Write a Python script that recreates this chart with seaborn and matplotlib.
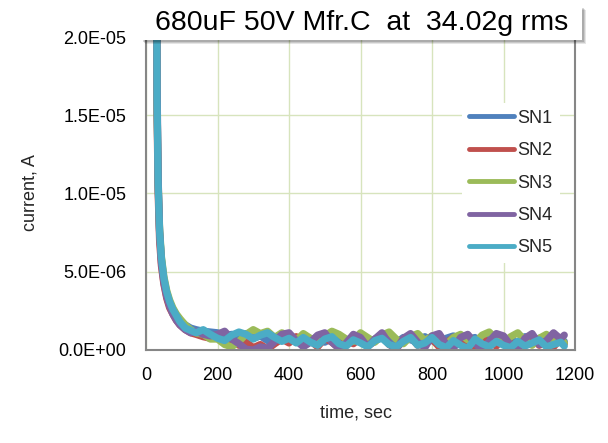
import numpy as np
import pandas as pd
import matplotlib
matplotlib.use("Agg")
import matplotlib.pyplot as plt
import seaborn as sns
from matplotlib.ticker import MultipleLocator, FuncFormatter
from matplotlib.patches import Rectangle

# ---------------- data (current in microamps) ----------------
time_s = [28, 31, 34, 38, 43, 50, 58, 66, 75, 85, 95, 110, 125, 140, 160, 180,
          200, 220, 240, 260, 280, 300, 320, 340, 360, 380,
          400, 420, 440, 460, 480, 500, 520, 540, 560, 580,
          600, 620, 640, 660, 680, 700, 720, 740, 760, 780,
          800, 820, 840, 860, 880, 900, 920, 940, 960, 980,
          1000, 1020, 1040, 1060, 1080, 1100, 1120, 1140, 1160, 1170]

sn1_uA = [45, 16, 10.5, 7.5, 5.8, 4.5, 3.6, 3.0, 2.6, 2.2, 1.9, 1.6, 1.4, 1.3, 1.2, 1.15,
          1.1, 0.9, 1.0, 0.8, 1.05, 0.75, 0.9, 0.6, 0.85, 0.7,
          0.9, 0.55, 0.8, 0.6, 0.85, 0.5, 0.75, 0.9, 0.55, 0.7,
          0.85, 0.5, 0.7, 0.9, 0.6, 0.45, 0.8, 0.65, 0.5, 0.85,
          0.6, 0.4, 0.75, 0.9, 0.5, 0.65, 0.8, 0.45, 0.7, 0.85,
          0.5, 0.7, 0.4, 0.85, 0.6, 0.75, 0.45, 0.8, 0.6, 0.55]
sn2_uA = [44, 15, 10, 7.0, 5.4, 4.2, 3.3, 2.7, 2.3, 1.9, 1.6, 1.3, 1.1, 1.0, 0.85, 0.75,
          0.8, 0.5, 0.6, 0.3, 0.5, 0.15, 0.35, 0.05, 0.4, 0.7,
          0.45, 0.85, 0.3, 0.6, 0.2, 0.75, 0.5, 0.1, 0.65, 0.4,
          0.8, 0.25, 0.55, 0.9, 0.35, 0.1, 0.6, 0.85, 0.3, 0.5,
          0.7, 0.2, 0.45, 0.8, 0.35, 0.6, 0.15, 0.7, 0.5, 0.25,
          0.85, 0.4, 0.1, 0.6, 0.8, 0.3, 0.55, 0.2, 0.75, 0.4]
sn3_uA = [45, 16, 10.8, 7.8, 6.0, 4.7, 3.8, 3.2, 2.7, 2.3, 2.0, 1.6, 1.3, 1.1, 1.0, 0.7,
          0.7, 0.35, 0.2, 0.55, 1.0, 1.3, 1.05, 1.2, 0.8, 1.1,
          0.9, 0.6, 1.05, 0.75, 0.4, 0.9, 1.2, 1.0, 0.7, 0.55,
          1.1, 0.8, 0.5, 0.95, 1.15, 0.7, 0.4, 0.85, 1.05, 0.6,
          0.9, 0.5, 0.35, 0.8, 1.0, 0.65, 0.45, 0.95, 1.15, 0.7,
          0.5, 0.85, 1.1, 0.6, 0.3, 0.75, 1.0, 0.55, 0.8, 0.45]
sn4_uA = [46, 17, 11, 7.6, 5.6, 4.3, 3.4, 2.8, 2.3, 1.9, 1.6, 1.3, 1.1, 1.2, 1.0, 0.9,
          1.0, 1.2, 0.7, 0.4, 0.05, 0.0, 0.2, 0.1, 0.55, 1.0,
          1.1, 0.6, 0.2, 0.5, 0.95, 1.1, 0.5, 0.1, 0.45, 1.0,
          0.8, 0.2, 0.7, 1.1, 0.4, 0.05, 0.75, 1.05, 0.5, 0.15,
          0.9, 1.05, 0.35, 0.1, 0.8, 1.0, 0.45, 0.0, 0.55, 1.05,
          0.9, 0.3, 0.05, 0.75, 1.05, 0.35, 0.6, 1.1, 0.7, 0.95]
sn5_uA = [45, 16, 10.6, 7.6, 5.9, 4.6, 3.7, 3.1, 2.6, 2.2, 1.8, 1.4, 1.25, 1.1, 1.3, 1.0,
          0.75, 0.6, 0.95, 1.15, 1.0, 0.7, 0.95, 1.1, 0.8, 0.55,
          0.75, 0.45, 0.8, 0.5, 0.3, 0.7, 0.85, 0.4, 0.25, 0.65,
          0.45, 0.2, 0.6, 0.75, 0.35, 0.2, 0.55, 0.8, 0.3, 0.45,
          0.8, 0.35, 0.15, 0.6, 0.3, 0.1, 0.7, 0.4, 0.2, 0.55,
          0.3, 0.15, 0.55, 0.25, 0.45, 0.65, 0.2, 0.35, 0.5, 0.25]

series_names = ["SN1", "SN2", "SN3", "SN4", "SN5"]
series_colors = ["#4f81bd", "#c0504d", "#9bbb59", "#8064a2", "#4bacc6"]
title_text = "680uF 50V Mfr.C  at  34.02g rms"

# ---------------- build long table ----------------
frames = []
for name, vals in zip(series_names, [sn1_uA, sn2_uA, sn3_uA, sn4_uA, sn5_uA]):
    frames.append(pd.DataFrame({"time": time_s,
                                "current": np.array(vals) * 1e-6,
                                "series": name}))
df = pd.concat(frames, ignore_index=True)

sns.set_theme(style="white")
plt.rcParams["font.family"] = ["Liberation Sans", "DejaVu Sans"]

FS = 13
fig = plt.figure(figsize=(6.08, 4.43), dpi=100)
ax = fig.add_axes([146 / 608, 1 - 350 / 443, (575 - 146) / 608, (350 - 37) / 443])

sns.lineplot(data=df, x="time", y="current", hue="series", hue_order=series_names,
             palette=series_colors, linewidth=5.2, ax=ax, sort=False,
             estimator=None, solid_capstyle="round", solid_joinstyle="round")

ax.set_xlim(0, 1200)
ax.set_ylim(0, 2.0e-5)
ax.xaxis.set_major_locator(MultipleLocator(200))
ax.xaxis.set_minor_locator(MultipleLocator(40))
ax.yaxis.set_major_locator(MultipleLocator(5e-6))
ax.yaxis.set_minor_locator(MultipleLocator(1e-6))
ax.yaxis.set_major_formatter(FuncFormatter(lambda v, p: f"{v:.1E}"))

grid_c = "#d7e4bd"
ax.grid(True, which="major", color=grid_c, linewidth=1.0)
ax.set_axisbelow(True)

spine_c = "#868686"
for s in ["left", "bottom", "right"]:
    ax.spines[s].set_color(spine_c)
    ax.spines[s].set_linewidth(1.5)
ax.spines["top"].set_visible(False)
ax.tick_params(axis="both", which="both", direction="in", color=spine_c,
               labelsize=FS, labelcolor="black")
ax.tick_params(axis="x", pad=12)
ax.tick_params(axis="y", pad=14)
ax.tick_params(which="major", length=5, width=1)
ax.tick_params(which="minor", length=4, width=1)
ax.tick_params(axis="y", which="both", right=False)

ax.set_xlabel("time, sec", fontsize=FS)
ax.set_ylabel("current, A", fontsize=FS)
ax.xaxis.set_label_coords((356 - 146) / 429, -(413 - 350) / 313)
ax.yaxis.set_label_coords(-(146 - 30) / 429, (350 - 193) / 313)
ax.xaxis.label.set_va("center")
ax.yaxis.label.set_va("center")

leg = ax.legend(loc="center left", bbox_to_anchor=(462 / 608, 1 - 183 / 443),
                bbox_transform=fig.transFigure, frameon=True, fontsize=FS,
                handlelength=2.5, handletextpad=0.18, labelspacing=0.85,
                borderpad=0.4, borderaxespad=0)
leg.get_frame().set_facecolor("white")
leg.get_frame().set_edgecolor("none")
leg.get_frame().set_alpha(1)
for line in leg.get_lines():
    line.set_linewidth(3.5)
    line.set_solid_capstyle("round")

# title box with soft shadow
W, H = 608, 443
bx0, bx1, by0, by1 = 141, 582, 6, 40
for i, a in enumerate([0.10, 0.12, 0.15]):
    off = 4 - i
    fig.patches.append(Rectangle(((bx0 + off) / W, 1 - (by1 + off) / H),
                                 (bx1 - bx0) / W, (by1 - by0) / H,
                                 transform=fig.transFigure, facecolor="black",
                                 alpha=a, edgecolor="none", zorder=5))
fig.patches.append(Rectangle((bx0 / W, 1 - by1 / H), (bx1 - bx0) / W, (by1 - by0) / H,
                             transform=fig.transFigure, facecolor="white",
                             edgecolor="none", zorder=6))
fig.text((bx0 + bx1) / 2 / W, 1 - 23 / H, title_text, ha="center", va="center",
         fontsize=20.5, color="black", zorder=7)

fig.savefig("out.png", dpi=100)
